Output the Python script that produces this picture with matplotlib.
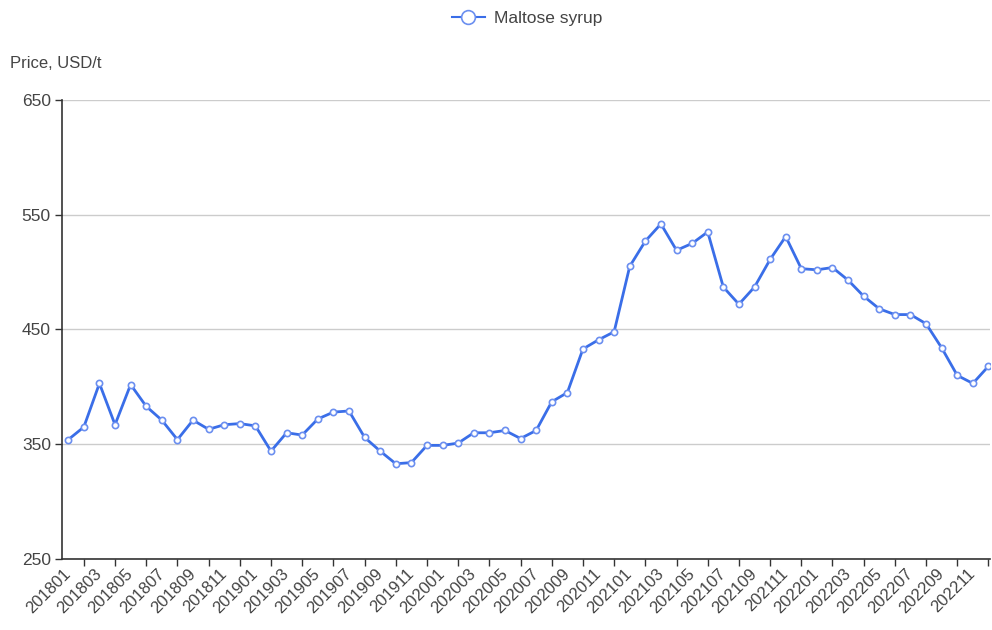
import numpy as np
import matplotlib.pyplot as plt
from matplotlib.ticker import FixedLocator

# monthly categories 201801 .. 202212
months = [f"{y}{m:02d}" for y in range(2018, 2023) for m in range(1, 13)]

# maltose syrup price, USD/t
price = [
    354, 365, 403, 367, 402, 383, 371, 354, 371, 363, 367, 368,   # 2018
    366, 344, 360, 358, 372, 378, 379, 356, 344, 333, 334, 349,   # 2019
    349, 351, 360, 360, 362, 355, 362, 387, 395, 433, 441, 448,   # 2020
    505, 527, 542, 519, 525, 535, 487, 472, 487, 511, 531, 503,   # 2021
    502, 504, 493, 479, 468, 463, 463, 455, 434, 410, 403, 418,   # 2022
]

y_ticks = [250, 350, 450, 550, 650]

LINE = '#3a6ee8'
TXT = '#444444'
FONT = 'Liberation Sans'

fig = plt.figure(figsize=(9.92, 6.3), dpi=100)
ax = fig.add_axes([0.0625, 0.1127, 0.9355, 0.7286])

x = np.arange(len(months))
line, = ax.plot(x, price, color=LINE, lw=2.0, marker='o', ms=4.5,
                mfc='white', mec='#6b8ff0', mew=1.2, zorder=3)

ax.set_xlim(-0.4, 59.1)
ax.set_ylim(250, 650)

# labels on every other month, tick marks in between (as in the reference)
ax.xaxis.set_major_locator(FixedLocator(x[::2]))
ax.set_xticklabels(months[::2])
ax.xaxis.set_minor_locator(FixedLocator(x[1::2]))
ax.tick_params(axis='x', which='major', length=0, pad=9)
ax.tick_params(axis='x', which='minor', length=5, width=1, color='#333333')
for lab in ax.get_xticklabels():
    lab.set_rotation(45)
    lab.set_ha('right')
    lab.set_va('center')
    lab.set_rotation_mode('anchor')
    lab.set_fontsize(12)
    lab.set_color(TXT)
    lab.set_family(FONT)

ax.set_yticks(y_ticks)
ax.tick_params(axis='y', length=5, width=1, color='#333333', pad=3)
for lab in ax.get_yticklabels():
    lab.set_fontsize(12.5)
    lab.set_color(TXT)
    lab.set_family(FONT)

ax.grid(axis='y', color='#cccccc', lw=1)
ax.set_axisbelow(True)
for s in ['top', 'right']:
    ax.spines[s].set_visible(False)
for s in ['left', 'bottom']:
    ax.spines[s].set_color('#333333')
    ax.spines[s].set_linewidth(1.2)

fig.text(10 / 992, 1 - 63 / 630, 'Price, USD/t', fontsize=12, color=TXT,
         family=FONT, va='center', ha='left')

leg = fig.legend([line], ['Maltose syrup'], loc='center',
                 bbox_to_anchor=(527 / 992, 1 - 18 / 630), frameon=False,
                 prop={'family': FONT, 'size': 12.5}, handlelength=1.9,
                 markerscale=2.2, handletextpad=0.5)
for t in leg.get_texts():
    t.set_color(TXT)
for h in leg.legend_handles:
    h.set_linewidth(1.5)

fig.savefig('out.png', dpi=100)
